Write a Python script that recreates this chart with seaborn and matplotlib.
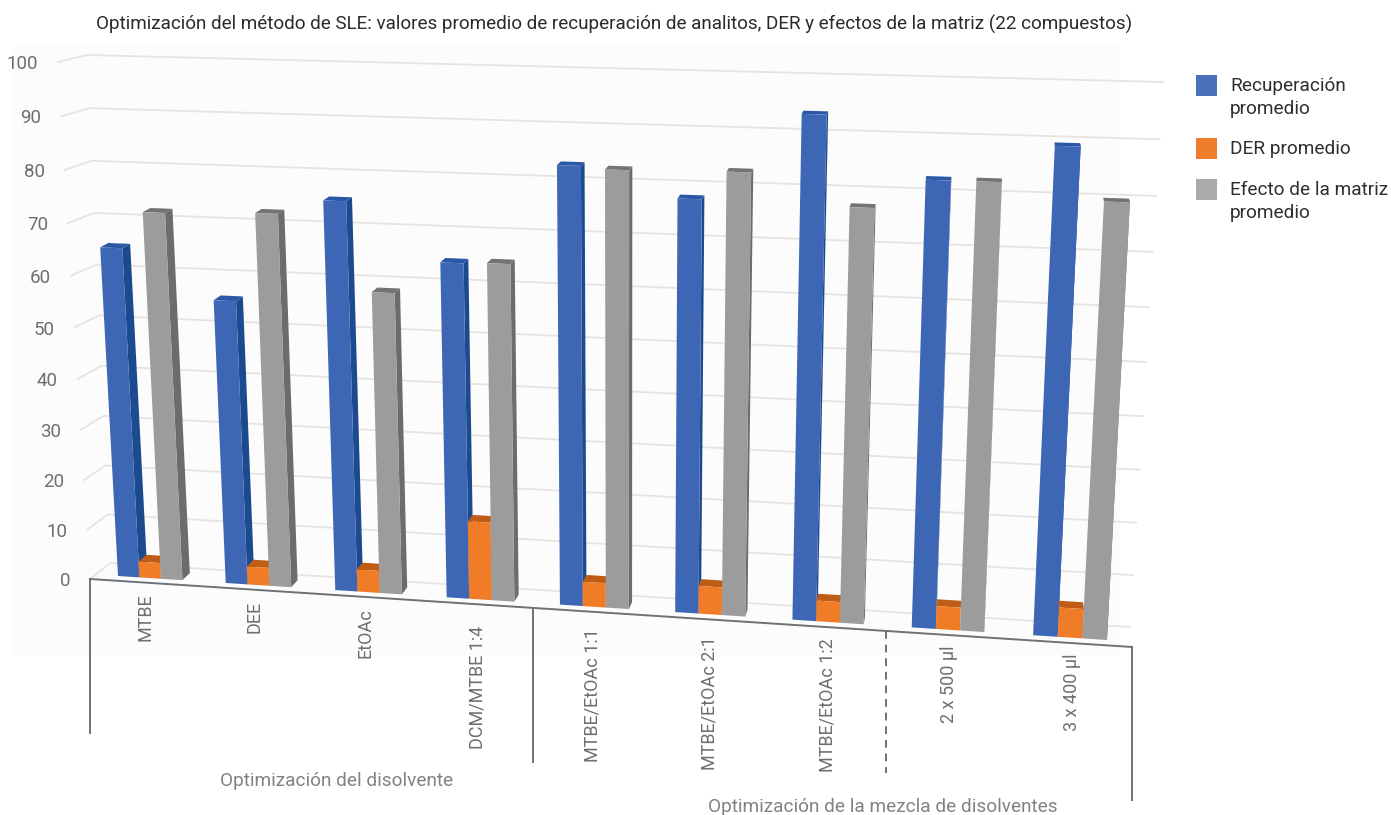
import numpy as np
import pandas as pd
import matplotlib
matplotlib.use("Agg")
import matplotlib.pyplot as plt
from matplotlib.patches import Polygon, Rectangle
from matplotlib.transforms import Transform, IdentityTransform
from matplotlib.lines import Line2D
import seaborn as sns

W, H = 1391, 815

categories = ["MTBE", "DEE", "EtOAc", "DCM/MTBE 1:4", "MTBE/EtOAc 1:1",
              "MTBE/EtOAc 2:1", "MTBE/EtOAc 1:2", "2 x 500 µl", "3 x 400 µl"]
recuperacion = [64.8, 55.6, 75.2, 64.5, 83.1, 77.8, 93.5, 82.6, 89.2]
der = [3.2, 3.6, 4.4, 15.3, 4.8, 5.4, 4, 4.4, 5.6]
efecto = [71.8, 72.4, 58.4, 64.7, 82.6, 82.9, 77.3, 82.6, 79.8]
series_names = ["Recuperación promedio", "DER promedio", "Efecto de la matriz promedio"]
legend_lines = [["Recuperación", "promedio"], ["DER promedio"], ["Efecto de la matriz", "promedio"]]
y_ticks = list(range(0, 101, 10))
title = ("Optimización del método de SLE: valores promedio de recuperación de analitos, "
         "DER y efectos de la matriz (22 compuestos)")
group_labels = ["Optimización del disolvente", "Optimización de la mezcla de disolventes"]

front_col = ["#3D66B4", "#F07C28", "#9C9C9C"]
side_col = ["#1B4A8E", "#C9621A", "#6C6C6C"]
top_col = ["#2A58A6", "#BF5C16", "#757270"]
legend_col = ["#4A71BA", "#EE7D2E", "#A9AAAC"]
TICK = "#6D6E71"
GRID = "#E9E3E0"


class Homography(Transform):
    """Projective map from (category, value) to display pixels."""
    input_dims = 2
    output_dims = 2
    is_affine = False
    has_inverse = False

    def __init__(self, src, dst):
        super().__init__()
        A, b = [], []
        for (x, y), (u, v) in zip(src, dst):
            v = H - v
            A.append([x, y, 1, 0, 0, 0, -u * x, -u * y]); b.append(u)
            A.append([0, 0, 0, x, y, 1, -v * x, -v * y]); b.append(v)
        self.m = np.append(np.linalg.solve(np.array(A, float), np.array(b, float)), 1).reshape(3, 3)

    def transform_non_affine(self, values):
        p = np.column_stack([values, np.ones(len(values))]) @ self.m.T
        return p[:, :2] / p[:, 2:3]


def corners(a, b):
    return [(a, 0), (b, 0), (b, 100), (a, 100)]


front = Homography(corners(-0.3, 8.3), [(118, 576), (1107, 640), (1136, 85), (90, 59)])
back = Homography(corners(-0.3, 8.3), [(126, 569), (1106, 633), (1135, 82), (98, 56)])
wall = Homography(corners(-0.5, 8.5), [(110, 563), (1130, 627), (1163, 82), (87, 55)])
axis_plane = Homography(corners(-0.5, 8.5), [(90, 579), (1132, 647), (1161, 89), (58, 62)])


def pt(tr, x, y):
    return tr.transform_non_affine(np.array([[x, y]], float))[0]


df = pd.DataFrame({
    "categoria": categories * 3,
    "serie": sum([[s] * len(categories) for s in series_names], []),
    "valor": recuperacion + der + efecto,
})

plt.rcParams["font.family"] = ["Roboto", "DejaVu Sans"]
fig = plt.figure(figsize=(W / 100, H / 100), dpi=100, facecolor="white")
fig.patches.append(Rectangle((14 / W, 1 - 656 / H), (1120 - 14) / W, (656 - 46) / H,
                             transform=fig.transFigure, facecolor="#FCFCFC", edgecolor="none", zorder=-5))
ax = fig.add_axes([0, 0, 1, 1])
sns.barplot(data=df, x="categoria", y="valor", hue="serie", order=categories, hue_order=series_names,
            palette=front_col, width=0.6, gap=0, saturation=1, ax=ax, legend=False, err_kws={"linewidth": 0})
ax.set_axis_off()

# 3D look: each seaborn bar is re-projected, with side and top faces taken from its geometry
for k, cont in enumerate(ax.containers):
    for bar in cont:
        x0, x1, h = bar.get_x(), bar.get_x() + bar.get_width(), bar.get_height()
        z = 10 + (x0 + 1) * 10
        bar.set_transform(front)
        bar.set_clip_on(False)
        bar.set_linewidth(0)
        bar.set_zorder(z + 0.2)
        sides = [pt(front, x1, 0), pt(front, x1, h), pt(back, x1, h), pt(back, x1, 0)]
        tops = [pt(front, x0, h), pt(front, x1, h), pt(back, x1, h), pt(back, x0, h)]
        ax.add_patch(Polygon(sides, closed=True, transform=IdentityTransform(), facecolor=side_col[k],
                             edgecolor="none", zorder=z, clip_on=False))
        ax.add_patch(Polygon(tops, closed=True, transform=IdentityTransform(), facecolor=top_col[k],
                             edgecolor="none", zorder=z + 0.1, clip_on=False))

# gridlines on back wall, side wall and tick labels
for v in y_ticks:
    a, b = pt(axis_plane, -0.5, v), pt(wall, -0.5, v)
    c = pt(wall, 8.5, v)
    ax.add_line(Line2D([a[0], b[0], c[0]], [a[1], b[1], c[1]], transform=IdentityTransform(),
                       color=GRID, lw=1.3, zorder=1, clip_on=False))
    fig.text((a[0] - 20) / W, (a[1] - 2) / H, str(v), ha="right", va="center", fontsize=13.5, color=TICK)

# floor line and group dividers
edge_a, edge_b = pt(axis_plane, -0.5, 0), pt(axis_plane, 8.5, 0)
ax.add_line(Line2D([edge_a[0], edge_b[0]], [edge_a[1], edge_b[1]], transform=IdentityTransform(),
                   color="#6D7278", lw=1.4, zorder=200, clip_on=False))
for x, drop, ls in [(-0.5, 154, "-"), (3.5, 154, "-"), (6.5, 142, (0, (4, 3))), (8.5, 153, "-")]:
    p = pt(axis_plane, x, 0)
    ax.add_line(Line2D([p[0], p[0]], [p[1], p[1] - drop], transform=IdentityTransform(),
                       color="#6D7278", lw=1.4, ls=ls, zorder=200, clip_on=False))

label_gaps = [11, 11, 11, 22, 17, 17, 11, 11, 11]
for i, lab in enumerate(categories):
    p = pt(axis_plane, i, 0)
    fig.text((p[0] + 2) / W, (p[1] - label_gaps[i]) / H, lab, rotation=90, ha="center", va="top",
             fontsize=13, color=TICK)

fig.text(337 / W, 1 - 781 / H, group_labels[0], ha="center", va="center", fontsize=13.7, color="#808285")
fig.text(883 / W, 1 - 807 / H, group_labels[1], ha="center", va="center", fontsize=13.7, color="#808285")
fig.text(614 / W, 1 - 24 / H, title, ha="center", va="center", fontsize=13.6, color="#2B2B2B")

# legend
for col, lines, sq_top in zip(legend_col, legend_lines, [75, 138, 179]):
    fig.patches.append(Rectangle((1196 / W, 1 - (sq_top + 21) / H), 21 / W, 21 / H,
                                 transform=fig.transFigure, facecolor=col, edgecolor="none"))
    for j, line in enumerate(lines):
        fig.text(1230 / W, 1 - (sq_top + 11 + j * 23.5) / H, line, ha="left", va="center",
                 fontsize=13.7, color="#2F2F2F")

fig.savefig("out.png", dpi=100)
